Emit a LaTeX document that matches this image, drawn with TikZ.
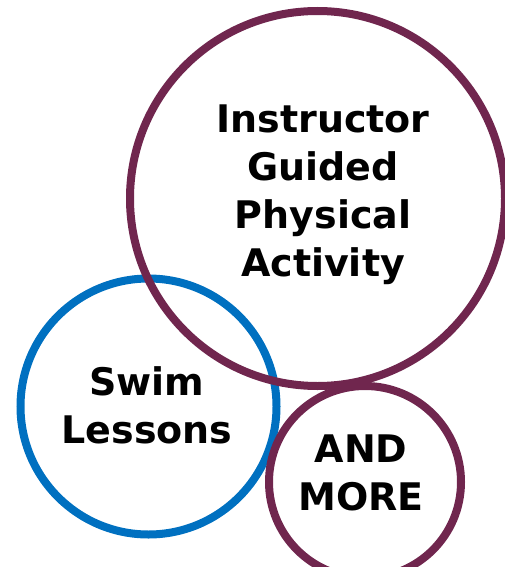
\documentclass[tikz,border=0pt]{standalone}
\usepackage{fontspec}
\setmainfont{DejaVu Sans}
\usetikzlibrary{positioning}

\definecolor{plum}{RGB}{112,38,78}
\definecolor{office blue}{RGB}{0,112,192}

\begin{document}
\begin{tikzpicture}[x=1pt, y=-1pt,
			ring/.style={circle, draw, line width=8pt, inner sep=0, outer sep=0},
			caption/.style={align=center, inner sep=0, font=\fontsize{38}{48}\selectfont\bfseries}]

			\useasboundingbox (0,0) rectangle (504,567);

			\node[ring, draw=office blue, minimum size=256pt] (swim) at (148.5,406.5) {};
			\node[ring, draw=plum, minimum size=375pt] (guided) at (317.5,198.5) {};
			\node[ring, draw=plum, minimum size=192pt] (more) at (365,482) {};

			\node[caption] (guidedtext) at (323,195) {Instructor\\Guided\\Physical\\Activity};
			\node[caption] (swimtext) at (147,405) {Swim\\Lessons};
			\node[caption] (moretext) at (361,472.5) {AND\\MORE};
		\end{tikzpicture}
\end{document}
